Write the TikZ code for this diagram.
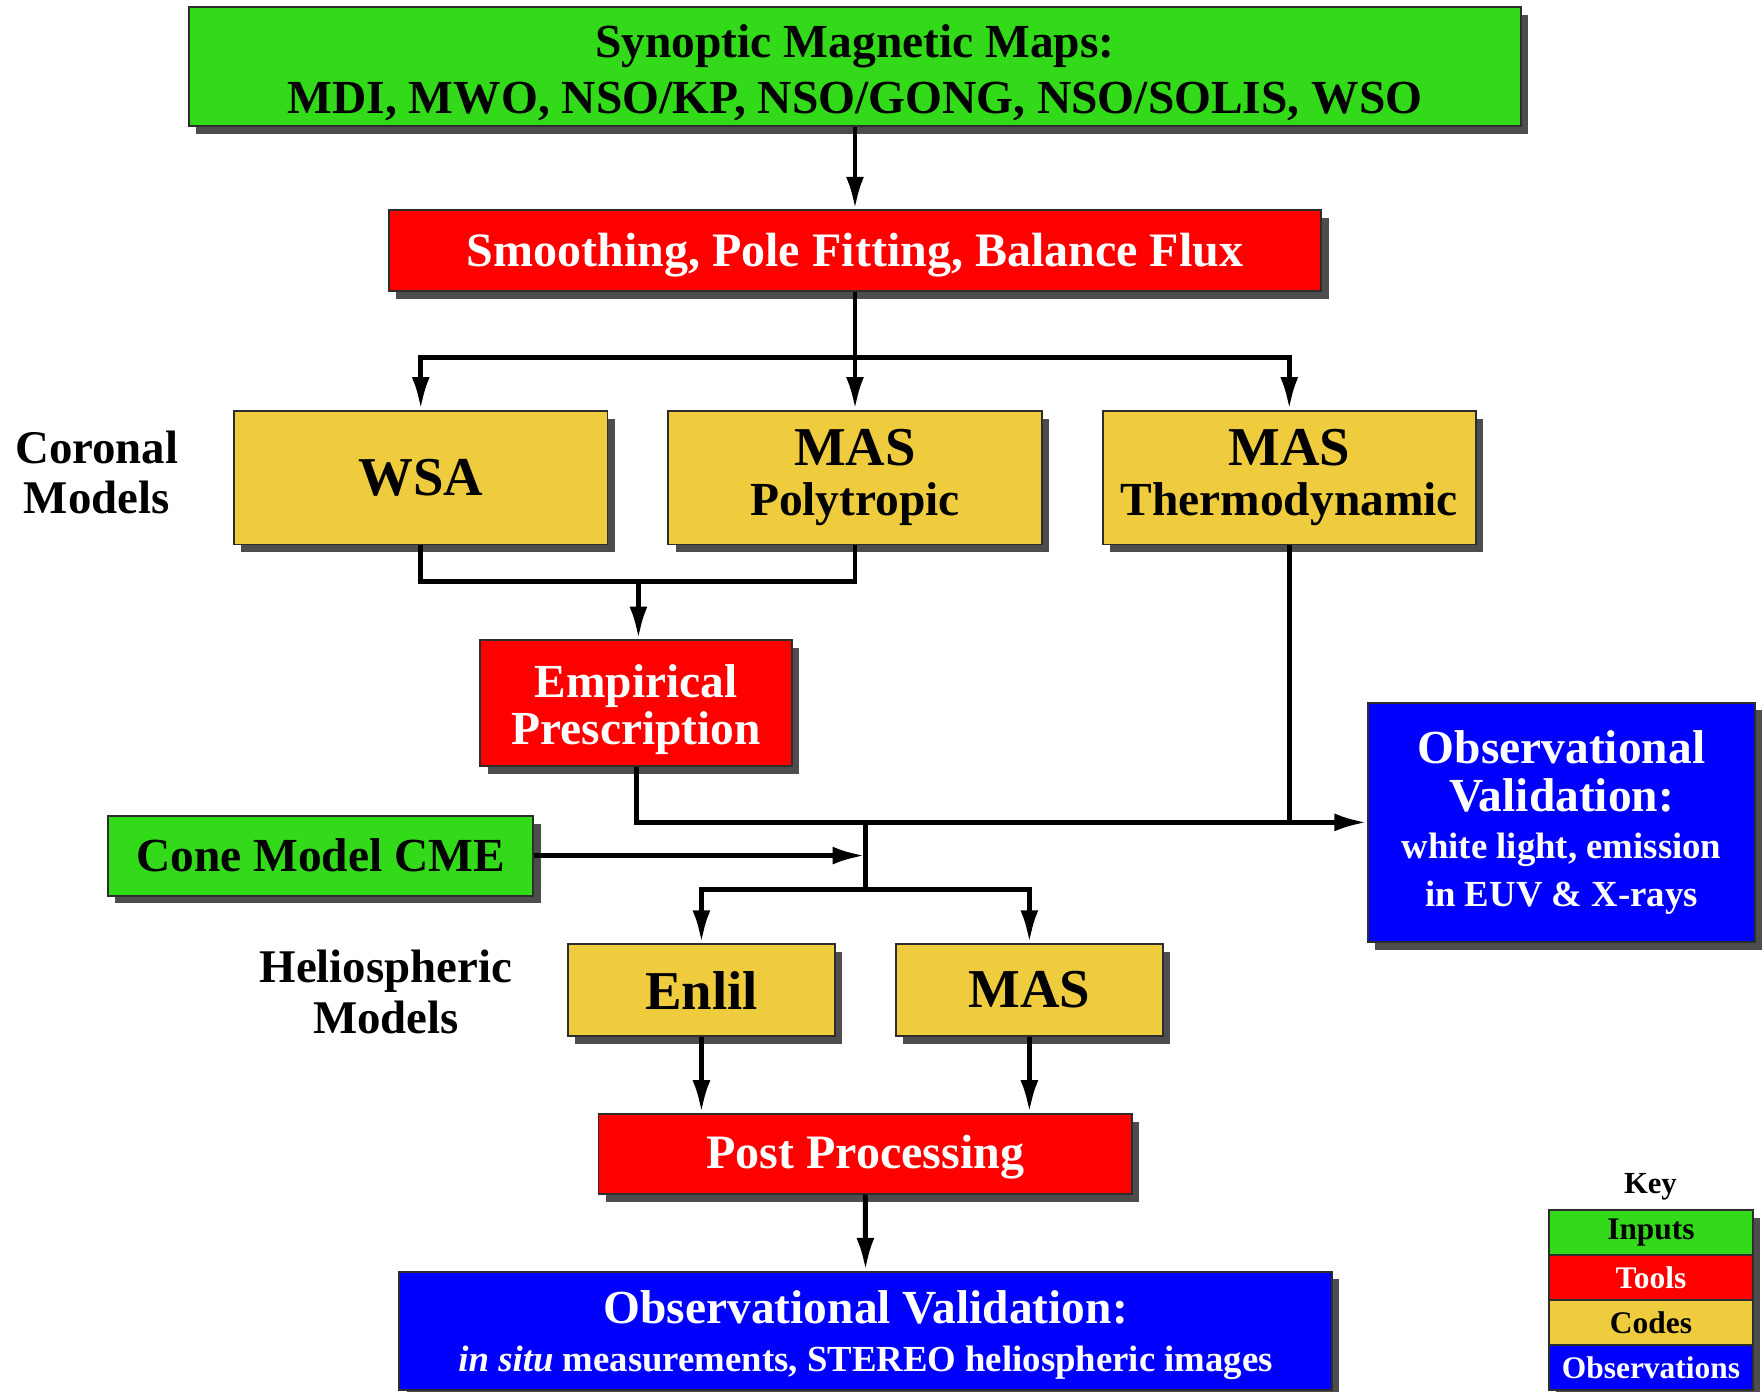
\documentclass[tikz,border=0pt]{standalone}
\usepackage{fontspec}
\setmainfont{Liberation Serif}
\usepackage{xcolor}
\usepackage{tikz}
\usetikzlibrary{arrows.meta, shadows}
\definecolor{inputgreen}{RGB}{50,218,26}
\definecolor{toolred}{RGB}{255,0,0}
\definecolor{codeyellow}{RGB}{238,204,62}
\definecolor{obsblue}{RGB}{0,0,255}
\definecolor{shadowgray}{RGB}{77,77,77}
\definecolor{edgegray}{RGB}{45,45,45}
\newcommand{\subtxt}{\fontsize{18.6}{22.8}\selectfont}
\newcommand{\bigtxt}{\fontsize{27.7}{30}\selectfont}
\tikzset{
    box/.style={rectangle, draw=edgegray, line width=1pt, inner sep=0pt, text centered, align=center, font=\bfseries\fontsize{24}{25.6}\selectfont, drop shadow={shadow xshift=0.13cm, shadow yshift=-0.14cm, fill=shadowgray, opacity=1}},
    inputbox/.style={box, fill=inputgreen},
    toolbox/.style={box, fill=toolred, text=white},
    codebox/.style={box, fill=codeyellow, minimum width=6.64cm, minimum height=2.38cm},
    obsbox/.style={box, fill=obsblue, text=white},
    keybox/.style={box, minimum width=3.62cm, minimum height=0.8cm, font=\bfseries\fontsize{15.9}{17}\selectfont},
    tag/.style={align=center, font=\bfseries\fontsize{23.7}{25.6}\selectfont},
    flow/.style={-{Latex[length=5.8mm, width=3.2mm]}, line width=2.5pt},
    link/.style={line width=2.5pt}
}

\begin{document}
\begin{tikzpicture}
    \useasboundingbox (0,0) rectangle (31.36,-24.74);

    % Inputs and preprocessing
    \node[inputbox, minimum width=23.68cm, minimum height=2.12cm] (synoptic) at (15.2,-1.18) {\rule{0pt}{0.8cm}Synoptic Magnetic Maps:\\[2.9pt]MDI, MWO, NSO/KP, NSO/GONG, NSO/SOLIS, WSO};
    \node[toolbox, minimum width=16.58cm, minimum height=1.44cm, font=\bfseries\fontsize{24.3}{26}\selectfont] (smoothing) at (15.2,-4.46) {\rule{0pt}{0.74cm}Smoothing, Pole Fitting, Balance Flux};

    % Coronal models
    \node[tag] (coronal) at (1.72,-8.4) {Coronal\\Models};
    \node[codebox, font=\bfseries\bigtxt] (wsa) at (7.48,-8.49) {WSA};
    \node[codebox] (maspoly) at (15.2,-8.49) {{\bigtxt MAS}\\Polytropic};
    \node[codebox] (masthermo) at (22.92,-8.49) {{\bigtxt MAS}\\Thermodynamic};
    \node[toolbox, minimum width=5.54cm, minimum height=2.24cm, font=\bfseries\fontsize{24}{24}\selectfont] (empirical) at (11.31,-12.5) {\rule{0pt}{0.81cm}Empirical\\Prescription};

    % Observations (corona)
    \node[obsbox, minimum width=6.88cm, minimum height=4.26cm, font=\bfseries\fontsize{24}{24.5}\selectfont] (obsright) at (27.76,-14.62) {Observational\\Validation:\\[-1pt]\subtxt white light, emission\\\subtxt in EUV \& X-rays};

    % CME input
    \node[inputbox, minimum width=7.56cm, minimum height=1.42cm] (cone) at (5.7,-15.21) {Cone Model CME};

    % Heliospheric models
    \node[tag] (helio) at (6.86,-17.64) {Heliospheric\\Models};
    \node[codebox, minimum width=4.74cm, minimum height=1.64cm, font=\bfseries\bigtxt] (enlil) at (12.47,-17.6) {Enlil};
    \node[codebox, minimum width=4.74cm, minimum height=1.64cm, font=\bfseries\bigtxt] (mashelio) at (18.3,-17.6) {MAS};
    \node[toolbox, minimum width=9.48cm, minimum height=1.42cm, font=\bfseries\fontsize{24.3}{26}\selectfont] (post) at (15.38,-20.51) {\rule{0pt}{0.7cm}Post Processing};

    % Observations (heliosphere)
    \node[obsbox, minimum width=16.58cm, minimum height=2.11cm] (obsbottom) at (15.39,-23.66) {\rule{0pt}{0.73cm}Observational Validation:\\[-1pt]\subtxt\textit{in situ} measurements, STEREO heliospheric images};

    % Key
    \node[font=\bfseries\fontsize{15.5}{17}\selectfont] (key) at (29.34,-21.1) {Key};
    \node[keybox, fill=inputgreen] (kinputs) at (29.35,-21.91) {Inputs};
    \node[keybox, fill=toolred, text=white] (ktools) at (29.35,-22.71) {Tools};
    \node[keybox, fill=codeyellow] (kcodes) at (29.35,-23.51) {Codes};
    \node[keybox, fill=obsblue, text=white] (kobs) at (29.35,-24.31) {Observations};

    % Junction points
    \coordinate (split1) at (15.2,-6.36);
    \coordinate (merge1) at (11.35,-10.34);
    \coordinate (hub) at (15.38,-14.62);
    \coordinate (split2) at (15.38,-15.82);

    % Flows
    \draw[flow] (synoptic) -- (smoothing);
    \draw[link] (smoothing) -- (split1);
    \draw[flow] (split1) -| (wsa);
    \draw[flow] (split1) -- (maspoly);
    \draw[flow] (split1) -| (masthermo);
    \draw[link] (wsa) |- (merge1) -| (maspoly);
    \draw[flow] (merge1) -- (merge1 |- empirical.north);
    \draw[flow] (empirical) |- (obsright);
    \draw[link] (masthermo) -- (masthermo |- obsright);
    \draw[link] (hub) -- (split2);
    \draw[flow] (cone) -- (cone -| hub);
    \draw[flow] (split2) -| (enlil);
    \draw[flow] (split2) -| (mashelio);
    \draw[flow] (enlil) -- (enlil |- post.north);
    \draw[flow] (mashelio) -- (mashelio |- post.north);
    \draw[flow] (post) -- (obsbottom);
\end{tikzpicture}
\end{document}
